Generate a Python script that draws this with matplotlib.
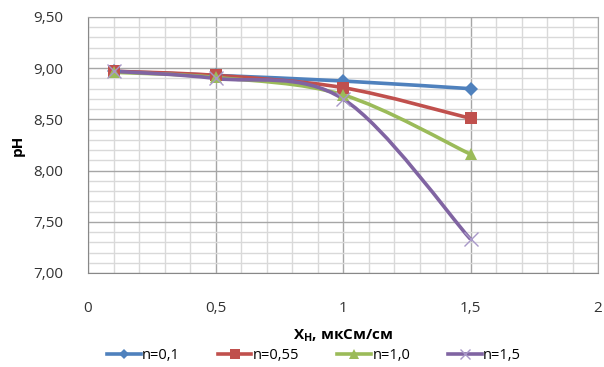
import matplotlib.pyplot as plt
import numpy as np
from matplotlib.path import Path
from matplotlib.patches import PathPatch
from matplotlib.lines import Line2D

plt.rcParams['font.family'] = ['Open Sans', 'DejaVu Sans']

# данные
x = [0.1, 0.5, 1.0, 1.5]
labels = ['n=0,1', 'n=0,55', 'n=1,0', 'n=1,5']
ph_01 = [8.97, 8.93, 8.875, 8.80]
ph_055 = [8.97, 8.93, 8.81, 8.51]
ph_10 = [8.96, 8.91, 8.74, 8.16]
ph_15 = [8.97, 8.90, 8.70, 7.33]

colors = ['#4F81BD', '#C0504D', '#9BBB59', '#8064A2']
mcolors = ['#4F81BD', '#C0504D', '#9BBB59', '#A898C8']
markers = ['D', 's', '^', 'x']
msizes = [7, 9, 9, 10]


# сглаженная линия как в Excel (кривые Безье)
def smooth_path(xs, ys):
    pts = np.column_stack([xs, ys])
    verts = [pts[0]]
    codes = [Path.MOVETO]
    n = len(pts)
    for i in range(n - 1):
        p0 = pts[i - 1] if i > 0 else pts[i]
        p1 = pts[i]
        p2 = pts[i + 1]
        p3 = pts[i + 2] if i + 2 < n else pts[i + 1]
        c1 = p1 + (p2 - p0) / 6
        c2 = p2 - (p3 - p1) / 6
        verts += [c1, c2, p2]
        codes += [Path.CURVE4] * 3
    return Path(verts, codes)


fig = plt.figure(figsize=(6.04, 3.67), dpi=100)
ax = fig.add_axes([88 / 604, 1 - 273 / 367, 510 / 604, 256 / 367])

series = [ph_01, ph_055, ph_10, ph_15]
handles = []
for ys, c, mc, m, ms, lab in zip(series, colors, mcolors, markers, msizes, labels):
    ax.add_patch(PathPatch(smooth_path(x, ys), facecolor='none', edgecolor=c, lw=2.6, zorder=3))
    mew = 1.0 if m == 'x' else 0
    ax.plot(x, ys, ls='none', marker=m, ms=ms, color=mc, mew=mew, zorder=4)
    handles.append(Line2D([0], [0], color=c, lw=2.6, marker=m, ms=ms * 0.75,
                          mfc=mc, mec=mc, mew=mew, label=lab))

ax.set_xlim(0, 2)
ax.set_ylim(7.0, 9.5)
ax.set_xticks(np.arange(0, 2.01, 0.5))
ax.set_xticks(np.arange(0, 2.01, 0.1), minor=True)
ax.set_yticks(np.arange(7.0, 9.51, 0.5))
ax.set_yticks(np.arange(7.0, 9.51, 0.1), minor=True)
ax.set_xticklabels(['0', '0,5', '1', '1,5', '2'])
ax.set_yticklabels(['7,00', '7,50', '8,00', '8,50', '9,00', '9,50'])
ax.grid(which='major', color='#A6A6A6', lw=1.0)
ax.grid(which='minor', color='#D9D9D9', lw=1.0)
ax.set_axisbelow(True)
ax.tick_params(which='both', length=0, labelsize=11, colors='#333333')
ax.tick_params(axis='x', pad=20)
ax.tick_params(axis='y', pad=18)
for s in ax.spines.values():
    s.set_color('#A6A6A6')
ax.spines['left'].set_color('#888888')
ax.spines['bottom'].set_color('#888888')

ax.set_ylabel('pH', fontweight='bold', fontsize=11, labelpad=6)
ax.set_xlabel(r'Х$_{\mathregular{Н}}$, мкСм/см', fontweight='bold', fontsize=11, labelpad=8)

fig.legend(handles=handles, loc='lower center', ncol=4, frameon=False, fontsize=10.5,
           bbox_to_anchor=(0.52, -0.025), handlelength=2.3, columnspacing=2.6, handletextpad=0.1)

fig.savefig('out.png', dpi=100)
